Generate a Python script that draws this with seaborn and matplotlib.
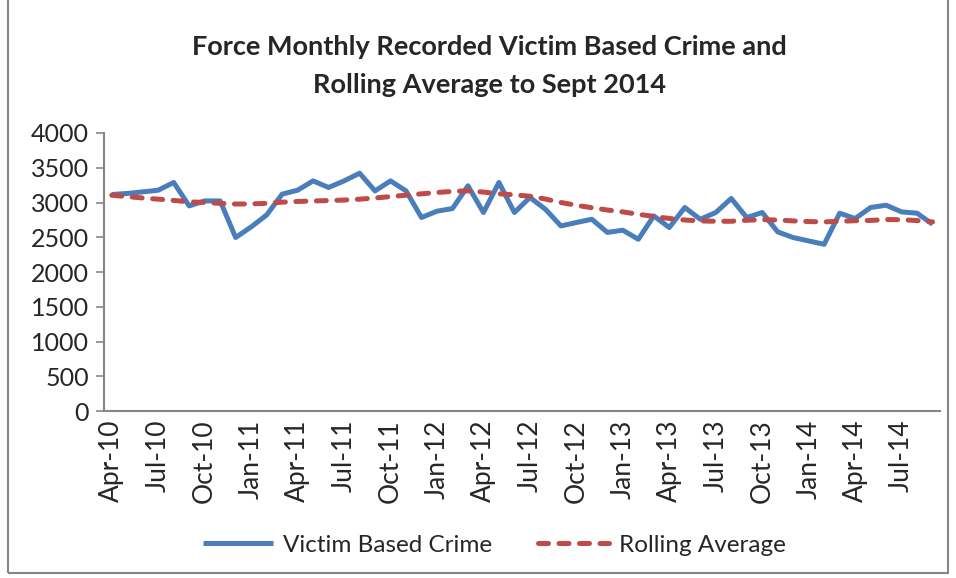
import numpy as np
import pandas as pd
import matplotlib
matplotlib.use('Agg')
import matplotlib.pyplot as plt
from matplotlib.patches import Rectangle
import seaborn as sns

# monthly figures, Apr-10 .. Sep-14
months = pd.date_range('2010-04-01', '2014-09-01', freq='MS')
crime = [3115, 3130, 3153, 3177, 3288, 2951, 3023, 3023, 2496, 2649,
         2820, 3120, 3177, 3311, 3216, 3311, 3422, 3167, 3311, 3167,
         2784, 2875, 2913, 3240, 2856, 3288, 2856, 3072, 2903, 2663,
         2712, 2759, 2570, 2601, 2471, 2807, 2640, 2928, 2759, 2856,
         3058, 2784, 2856, 2577, 2496, 2447, 2399, 2846, 2769, 2928,
         2961, 2865, 2846, 2687]
rolling = [3105, 3085, 3065, 3048, 3030, 3010, 3000, 2988, 2978, 2980,
           2988, 3005, 3015, 3022, 3028, 3035, 3048, 3065, 3085, 3105,
           3125, 3144, 3160, 3168, 3150, 3125, 3110, 3090, 3050, 3000,
           2960, 2925, 2892, 2865, 2830, 2800, 2770, 2748, 2735, 2730,
           2730, 2745, 2752, 2748, 2735, 2726, 2721, 2730, 2738, 2742,
           2755, 2752, 2740, 2721]
labels = [m.strftime('%b-%y') for m in months]

df = pd.DataFrame({'idx': np.arange(len(months)),
                   'Victim Based Crime': crime,
                   'Rolling Average': rolling})
long = df.melt(id_vars='idx', var_name='series', value_name='value')

sns.set_style('white')
plt.rcParams['font.family'] = ['Lato', 'DejaVu Sans']

fig = plt.figure(figsize=(9.56, 5.78), dpi=100)
ax = fig.add_axes([0.1088, 0.2889, 0.8748, 0.4810])

sns.lineplot(data=long, x='idx', y='value', hue='series', style='series',
             palette={'Victim Based Crime': '#4A7EBB', 'Rolling Average': '#BE4B48'},
             dashes={'Victim Based Crime': '', 'Rolling Average': (2.0, 2.1)},
             linewidth=3.6, ax=ax)
for ln in ax.lines:
    ln.set_dash_capstyle('round')
    ln.set_solid_capstyle('butt')

ax.set_xlim(-0.5, len(months) - 0.5)
ax.set_ylim(0, 4000)
ax.set_yticks(range(0, 4001, 500))
ax.set_xticks(np.arange(0, len(months), 3))
ax.set_xticklabels(labels[::3], rotation=90)
ax.set_xticks(np.arange(-0.5, len(months), 3), minor=True)
ax.tick_params(axis='x', which='major', length=0, pad=6, labelsize=19)
ax.tick_params(axis='x', which='minor', length=6, width=1.2, color='#868686', direction='out')
ax.tick_params(axis='y', length=6, width=1.2, color='#868686', direction='out',
               pad=5, labelsize=18, left=True)
ax.set_xlabel('')
ax.set_ylabel('')
for side in ['top', 'right']:
    ax.spines[side].set_visible(False)
for side in ['left', 'bottom']:
    ax.spines[side].set_color('#868686')
    ax.spines[side].set_linewidth(1.5)

ax.legend(loc='center', ncol=2, frameon=False, fontsize=17.5, handlelength=2.9,
          handletextpad=0.4, columnspacing=1.9)
leg = ax.get_legend()
leg.set_bbox_to_anchor((0.517, 1 - 545 / 578), transform=fig.transFigure)

fig.text(0.512, 1 - 47 / 578, 'Force Monthly Recorded Victim Based Crime and',
         ha='center', va='center', fontsize=19.5, fontweight='bold')
fig.text(0.512, 1 - 85 / 578, 'Rolling Average to Sept 2014',
         ha='center', va='center', fontsize=19.5, fontweight='bold')

fig.patches.append(Rectangle((8 / 956, 5 / 578), 940 / 956, 580 / 578,
                             transform=fig.transFigure, fill=False,
                             edgecolor='#868686', linewidth=1.5))

fig.savefig('out.png', dpi=100)
